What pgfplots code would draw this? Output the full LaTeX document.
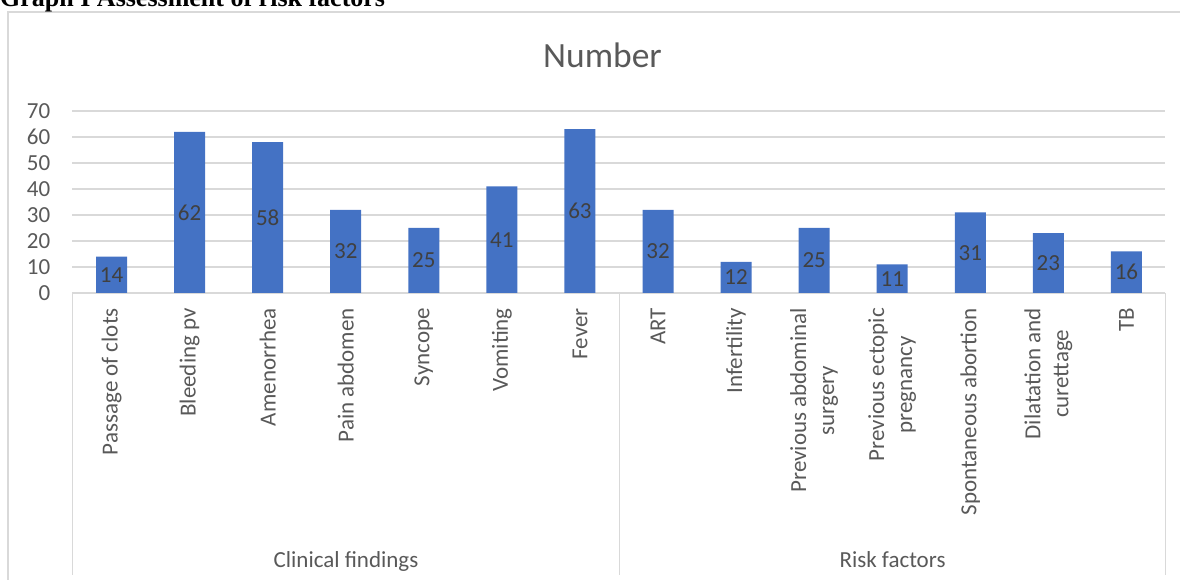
\documentclass[border=0pt]{standalone}
\usepackage{pgfplots}
\pgfplotsset{compat=1.18}
\usepackage{fontspec}
\setmainfont{Carlito}
\newfontfamily\timesfont{Liberation Serif}
\definecolor{barblue}{HTML}{4472C4}
\definecolor{gridc}{HTML}{D9D9D9}
\definecolor{txt}{HTML}{595959}
\definecolor{lbl}{HTML}{404040}
\begin{document}
\begin{tikzpicture}
\useasboundingbox (0,0) rectangle (1180pt,580pt);
\draw[gridc, line width=1.3pt] (8pt,-10pt) -- (8pt,568pt) -- (1190pt,568pt);
\node[anchor=base west, inner sep=0pt, font=\timesfont\bfseries\fontsize{26}{30}\selectfont] at (0pt,573.5pt) {Graph I Assessment of risk factors};
\node[anchor=base, inner sep=0pt, text=txt, font=\fontsize{35.5}{40}\selectfont] at (602.5pt,512pt) {Number};
\begin{axis}[
  at={(72.5pt,287pt)}, anchor=south west, scale only axis,
  width=1093pt, height=182pt,
  xmin=-0.5, xmax=13.5, ymin=0, ymax=70,
  ytick={0,10,...,70},
  xtick={0,...,13},
  xticklabels={Passage of clots, Bleeding pv, Amenorrhea, Pain abdomen, Syncope, Vomiting, Fever, ART, Infertility, {Previous abdominal\\surgery}, {Previous ectopic\\pregnancy}, Spontaneous abortion, {Dilatation and\\curettage}, TB},
  ybar, bar width=31pt,
  ymajorgrids, grid style={gridc, line width=1.3pt},
  axis x line*=bottom, axis y line*=left,
  x axis line style={gridc, line width=1.3pt, -},
  y axis line style={draw=none},
  major tick length=0pt,
  tick style={draw=none},
  tick label style={font=\fontsize{23}{28}\selectfont, text=txt},
  yticklabel style={anchor=east, inner sep=0pt, xshift=-22pt},
  xticklabel style={yshift=-15pt, rotate=90, anchor=east, align=center, inner sep=0pt},
  /pgf/number format/assume math mode=true,
  nodes near coords,
  visualization depends on={rawy \as \rawy},
  nodes near coords style={anchor=center, inner sep=0pt, font=\fontsize{23}{28}\selectfont, text=lbl, yshift={-1.3pt*\rawy}},
]
\addplot[fill=barblue, draw=none] coordinates {
(0,14) (1,62) (2,58) (3,32) (4,25) (5,41) (6,63) (7,32) (8,12) (9,25) (10,11) (11,31) (12,23) (13,16)
};
\end{axis}
\draw[gridc, line width=1.3pt] (72.5pt,287pt) -- (72.5pt,5pt);
\draw[gridc, line width=1.3pt] (619.5pt,287pt) -- (619.5pt,5pt);
\draw[gridc, line width=1.3pt] (1165.5pt,287pt) -- (1165.5pt,5pt);
\node[anchor=base, inner sep=0pt, text=txt, font=\fontsize{23}{28}\selectfont] at (346pt,12pt) {Clinical findings};
\node[anchor=base, inner sep=0pt, text=txt, font=\fontsize{23}{28}\selectfont] at (892.5pt,12pt) {Risk factors};
\end{tikzpicture}
\end{document}
